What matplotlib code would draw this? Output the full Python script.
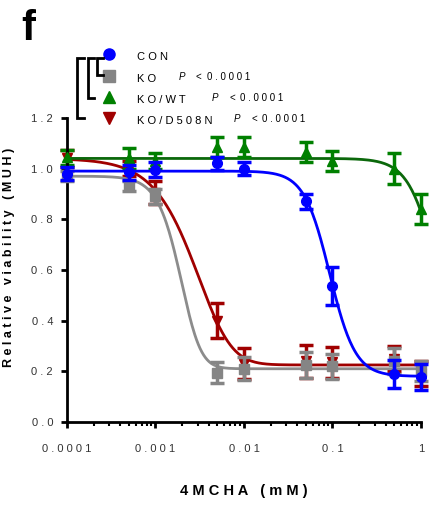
import numpy as np
import matplotlib
matplotlib.use("Agg")
import matplotlib.pyplot as plt
from matplotlib.ticker import LogLocator, NullFormatter

plt.rcParams['font.family'] = ['Liberation Sans', 'DejaVu Sans']

# 4MCHA concentrations (mM)
conc = [1e-4, 5e-4, 1e-3, 5e-3, 1e-2, 5e-2, 0.1, 0.5, 1.0]

con_mean = [0.98, 0.985, 0.995, 1.02, 1.0, 0.87, 0.535, 0.19, 0.178]
con_err = [0.025, 0.03, 0.03, 0.025, 0.025, 0.03, 0.075, 0.055, 0.05]
ko_mean = [0.97, 0.93, 0.89, 0.195, 0.21, 0.225, 0.22, 0.24, 0.2]
ko_err = [0.02, 0.02, 0.03, 0.04, 0.045, 0.05, 0.05, 0.05, 0.04]
wt_mean = [1.045, 1.04, 1.03, 1.085, 1.085, 1.065, 1.03, 1.0, 0.84]
wt_err = [0.03, 0.04, 0.03, 0.04, 0.04, 0.04, 0.04, 0.06, 0.06]
d508_mean = [1.04, 1.0, 0.905, 0.40, 0.23, 0.24, 0.235, 0.25, 0.19]
d508_err = [0.035, 0.03, 0.045, 0.07, 0.06, 0.065, 0.06, 0.05, 0.05]

# asymmetric logistic fits: top, bottom, midpoint (mM), hill slope, asymmetry
con_fit = [0.99, 0.18, 0.093, 3.0, 1.0]
ko_fit = [0.97, 0.21, 0.0025, 3.0, 2.0]
wt_fit = [1.04, 0.2, 1.49, 2.74, 1.0]
d508_fit = [1.04, 0.225, 0.0063, 1.55, 3.0]

names = ['CON', 'KO', 'KO/WT', 'KO/D508N']
pvals = ['', '0.0001', '0.0001', '0.0001']
x_ticks = [1e-4, 1e-3, 1e-2, 1e-1, 1]
x_ticklabels = ['0.0001', '0.001', '0.01', '0.1', '1']
y_ticks = [0.0, 0.2, 0.4, 0.6, 0.8, 1.0, 1.2]


def spaced(s, gap=' '):
    # wide letter spacing, extra room between words
    return '   '.join(gap.join(w) for w in s.split(' '))


def logistic(x, top, bottom, mid, h, s):
    return bottom + (top - bottom) / (1 + (x / mid) ** h) ** s


fig = plt.figure(figsize=(4.37, 5.05), dpi=100)
ax = fig.add_axes([0.1533, 0.1644, 0.81, 0.6022])

series = [
    (d508_mean, d508_err, d508_fit, '#a00000', '#a00000', 'v', 1),
    (wt_mean, wt_err, wt_fit, '#008000', '#0b680b', '^', 2),
    (ko_mean, ko_err, ko_fit, '#858585', '#8c8c8c', 's', 3),
    (con_mean, con_err, con_fit, '#0000ff', '#0000ff', 'o', 4),
]

xs = np.logspace(-4, 0, 400)
for mean, err, fit, col, lcol, mk, z in series:
    ax.plot(xs, logistic(xs, *fit), color=lcol, lw=2, zorder=z, clip_on=False)
    eb = ax.errorbar(conc, mean, yerr=err, fmt=mk, color=col, ms=7,
                     elinewidth=2.5, capsize=5, capthick=2.5, zorder=z + 0.5)
    for art in eb.lines[0:1] + tuple(eb.lines[1]) + tuple(eb.lines[2]):
        art.set_clip_on(False)

ax.set_xscale('log')
ax.set_xlim(1e-4, 1)
ax.set_ylim(0, 1.2)
ax.set_xticks(x_ticks)
ax.set_xticklabels([spaced(t) for t in x_ticklabels])
ax.xaxis.set_minor_locator(LogLocator(base=10, subs=np.arange(2, 10)))
ax.xaxis.set_minor_formatter(NullFormatter())
ax.set_yticks(y_ticks)
ax.set_yticklabels([spaced(f'{v:.1f}') for v in y_ticks])

for side in ['top', 'right']:
    ax.spines[side].set_visible(False)
for side in ['left', 'bottom']:
    ax.spines[side].set_linewidth(2)
ax.tick_params(axis='both', which='major', direction='out', length=4, width=2,
               labelsize=8, labelcolor='#333333', pad=6)
ax.tick_params(axis='x', which='major', pad=12)
ax.tick_params(axis='x', which='minor', direction='out', length=3, width=1.5)

ax.set_xlabel(spaced('4MCHA (mM)'), fontsize=10.5, fontweight='bold')
ax.xaxis.set_label_coords(0.5, -0.205)
ax.set_ylabel(spaced('Relative viability (MUH)'), fontsize=9, fontweight='bold')
ax.yaxis.set_label_coords(-0.147, 0.54)

# legend and significance brackets in pixel coordinates
ov = fig.add_axes([0, 0, 1, 1], facecolor='none')
ov.set_xlim(0, 437)
ov.set_ylim(505, 0)
ov.axis('off')

ov.text(21, 40, 'f', fontsize=30, fontweight='bold', ha='left', va='baseline')

rows = [56, 78, 99, 120]
markers = [('o', '#0000ff'), ('s', '#858585'), ('^', '#008000'), ('v', '#a00000')]
p_x = [0, 179, 212, 234]
for i, (name, pv) in enumerate(zip(names, pvals)):
    mk, col = markers[i]
    ov.plot(109, rows[i] - 2, marker=mk, color=col, ms=8, ls='none')
    ov.text(137, rows[i] + 1, ' '.join(name), fontsize=8, ha='left', va='center')
    if pv:
        ov.text(p_x[i], rows[i] - 1, 'P', fontsize=7, style='italic',
                ha='left', va='center')
        ov.text(p_x[i] + 17, rows[i] - 1, '<', fontsize=7, ha='left', va='center')
        ov.text(p_x[i] + 28, rows[i] - 1, ' '.join(pv), fontsize=7,
                ha='left', va='center')

brackets = [(97, 58, 75, 103), (88, 58, 98, 94), (77, 58, 118, 84)]
for bx, y0, y1, tip in brackets:
    ov.plot([tip, bx, bx, tip], [y0, y0, y1, y1], color='black', lw=2,
            solid_joinstyle='miter')

fig.savefig('out.png', dpi=100)
